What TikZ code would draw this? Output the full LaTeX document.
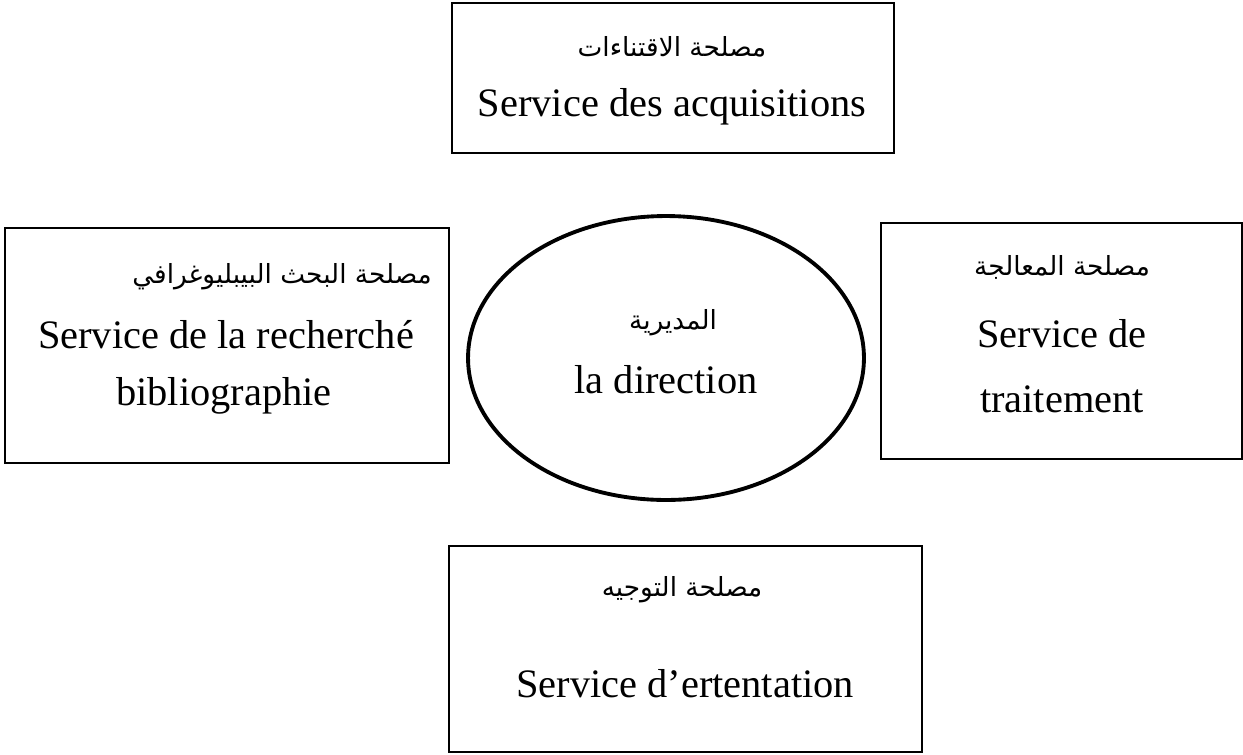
\documentclass[tikz,border=0pt]{standalone}
\usepackage{fontspec}
\setmainfont{Liberation Serif}
\newfontfamily\arabicfont[Script=Arabic]{DejaVu Sans}
\TeXXeTstate=1
\usetikzlibrary{shapes.geometric}

\begin{document}
\begin{tikzpicture}[x=0.02cm,y=-0.02cm,
  box/.style={draw,line width=0.8pt,inner sep=0pt},
  oval/.style={draw,ellipse,line width=2.2pt,inner sep=0pt,
    minimum width=7.92cm,minimum height=5.68cm},
  arlab/.style={font=\arabicfont\fontsize{15}{18}\selectfont,inner sep=0pt},
  frlab/.style={font=\fontsize{23}{27}\selectfont,inner sep=0pt,anchor=base}]
  \useasboundingbox (0,0) rectangle (1243,754);
  % Frames
  \node[box,minimum width=8.84cm,minimum height=3.0cm] (acq) at (673,78) {};
  \node[box,minimum width=8.88cm,minimum height=4.7cm] (biblio) at (227,345.5) {};
  \node[oval] (dir) at (666,358) {};
  \node[box,minimum width=7.22cm,minimum height=4.72cm] (trait) at (1061.5,341) {};
  \node[box,minimum width=9.46cm,minimum height=4.12cm] (orient) at (685.5,649) {};
  % Top: acquisitions
  \node[arlab] (acq-ar) at (672,47) {\beginR مصلحة الاقتناءات\endR};
  \node[frlab] (acq-fr) at (672,116) {Service des acquisitions};
  % Left: bibliographic search
  \node[arlab] (biblio-ar) at (282,277) {\beginR مصلحة البحث البيبليوغرافي\endR};
  \node[frlab] (biblio-fr1) at (226,348) {Service de la recherché};
  \node[frlab] (biblio-fr2) at (224,405) {bibliographie};
  % Centre: direction
  \node[arlab] (dir-ar) at (673,323) {\beginR المديرية\endR};
  \node[frlab] (dir-fr) at (666,393) {la direction};
  % Right: processing
  \node[arlab] (trait-ar) at (1062,267) {\beginR مصلحة المعالجة\endR};
  \node[frlab] (trait-fr1) at (1062,347) {Service de};
  \node[frlab] (trait-fr2) at (1062,412) {traitement};
  % Bottom: orientation
  \node[arlab] (orient-ar) at (682,590) {\beginR مصلحة التوجيه\endR};
  \node[frlab] (orient-fr) at (685,697) {Service d’ertentation};
\end{tikzpicture}
\end{document}
